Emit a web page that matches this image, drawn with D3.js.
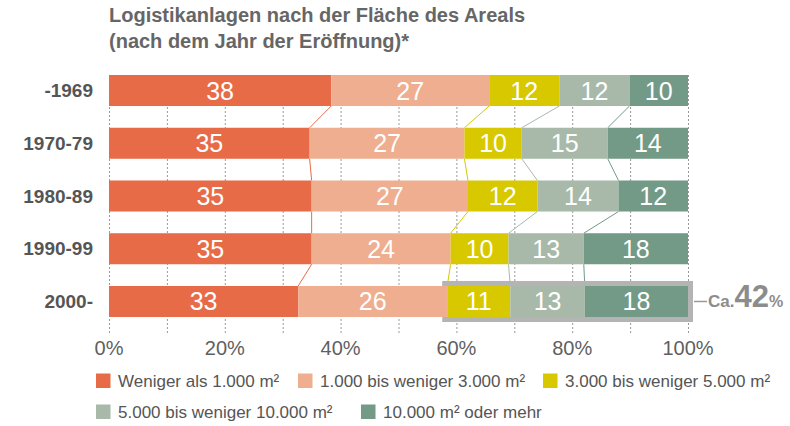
<!DOCTYPE html>
<html>
<head>
<meta charset="utf-8">
<script src="https://cdn.jsdelivr.net/npm/d3@7"></script>
<style>
  body { margin: 0; background: #fff; }
  svg text { font-family: "Liberation Sans", Arial, sans-serif; }
</style>
</head>
<body>
<div id="chart"></div>
<script>
'use strict';

const periods = ['-1969', '1970-79', '1980-89', '1990-99', '2000-'];
const classes = [
    'Weniger als 1.000 m²',
    '1.000 bis weniger 3.000 m²',
    '3.000 bis weniger 5.000 m²',
    '5.000 bis weniger 10.000 m²',
    '10.000 m² oder mehr'
];
const shares = [
    [38, 27, 12, 12, 10],
    [35, 27, 10, 15, 14],
    [35, 27, 12, 14, 12],
    [35, 24, 10, 13, 18],
    [33, 26, 11, 13, 18]
];
const colors = ['#e86b48', '#eeae8f', '#d8c800', '#a8b9a9', '#739a86'];
const xTicks = [0, 20, 40, 60, 80, 100];
const highlightText = '42';

const width = 790, height = 426;
const margin = {left: 109, right: 102, top: 75};
const plotW = width - margin.left - margin.right;

const svg = d3.select('#chart').append('svg')
    .attr('width', width)
    .attr('height', height);

const x = d3.scaleLinear().domain([0, 100]).range([margin.left, margin.left + plotW]);
const y = d3.scaleBand().domain(periods).range([75, 317]).paddingInner(0.412).paddingOuter(0);

// stacked positions, normalised to 100%
const rows = shares.map(function (vals, i) {
    let total = d3.sum(vals);
    let acc = 0;
    return vals.map(function (v, k) {
        let start = acc / total * 100;
        acc += v;
        return {period: periods[i], k: k, value: v, x0: start, x1: acc / total * 100};
    });
});

// title
svg.append('text')
    .attr('x', margin.left).attr('y', 22)
    .style('font-size', '20px').style('font-weight', 'bold').style('fill', '#666')
    .text('Logistikanlagen nach der Fläche des Areals');
svg.append('text')
    .attr('x', margin.left).attr('y', 48)
    .style('font-size', '20px').style('font-weight', 'bold').style('fill', '#666')
    .text('(nach dem Jahr der Eröffnung)*');

// dotted grid
svg.append('g').selectAll('line')
    .data(d3.range(0, 101, 10))
    .enter().append('line')
    .attr('x1', d => x(d) + 0.5).attr('x2', d => x(d) + 0.5)
    .attr('y1', y(periods[0])).attr('y2', 334)
    .style('stroke', '#999').style('stroke-width', 1).style('stroke-dasharray', '2,2');

// connector lines between rows
const connColor = [0, 2, 3, 4];
for (let i = 0; i < rows.length - 1; i++) {
    for (let b = 0; b < 4; b++) {
        svg.append('line')
            .attr('x1', x(rows[i][b].x1)).attr('y1', y(periods[i]) + y.bandwidth())
            .attr('x2', x(rows[i + 1][b].x1)).attr('y2', y(periods[i + 1]))
            .style('stroke', colors[connColor[b]]).style('stroke-width', 1);
    }
}

// highlight box on the last row
const last = rows[rows.length - 1];
const hy = y(periods[periods.length - 1]);
svg.append('rect')
    .attr('x', x(last[2].x0) - 2.5).attr('y', hy - 2.5)
    .attr('width', x(100) - x(last[2].x0) + 5).attr('height', y.bandwidth() + 5)
    .style('fill', 'none').style('stroke', '#b4b4b4').style('stroke-width', 5);

// bars
const rowG = svg.selectAll('.row').data(rows).enter()
    .append('g').attr('class', 'row');

rowG.selectAll('rect').data(d => d).enter()
    .append('rect')
    .attr('x', d => x(d.x0))
    .attr('y', d => y(d.period))
    .attr('width', d => x(d.x1) - x(d.x0))
    .attr('height', y.bandwidth())
    .style('fill', d => colors[d.k]);

rowG.selectAll('text').data(d => d).enter()
    .append('text')
    .attr('x', d => (x(d.x0) + x(d.x1)) / 2)
    .attr('y', d => y(d.period) + y.bandwidth() / 2 + 9)
    .attr('text-anchor', 'middle')
    .style('font-size', '25px').style('fill', '#fff')
    .text(d => d.value);

// category labels
svg.append('g').selectAll('text').data(periods).enter()
    .append('text')
    .attr('x', 93)
    .attr('y', d => y(d) + y.bandwidth() / 2 + 6.5)
    .attr('text-anchor', 'end')
    .style('font-size', '19px').style('font-weight', 'bold').style('fill', '#555')
    .text(d => d);

// x axis labels
svg.append('g').selectAll('text').data(xTicks).enter()
    .append('text')
    .attr('x', d => x(d))
    .attr('y', 355)
    .attr('text-anchor', 'middle')
    .style('font-size', '20px').style('fill', '#5f5f5f')
    .text(d => d + '%');

// Ca. 42%
svg.append('line')
    .attr('x1', x(100) + 6).attr('x2', x(100) + 19)
    .attr('y1', hy + y.bandwidth() / 2).attr('y2', hy + y.bandwidth() / 2)
    .style('stroke', '#999').style('stroke-width', 1.5);
const ca = svg.append('text')
    .attr('x', x(100) + 20).attr('y', hy + y.bandwidth() / 2 + 6)
    .style('fill', '#8c8c8c').style('font-weight', 'bold');
ca.append('tspan').style('font-size', '17px').text('Ca.');
ca.append('tspan').style('font-size', '31px').text(highlightText);
ca.append('tspan').style('font-size', '16px').text('%');

// legend
const legendPos = [[96, 381], [298, 381], [543, 381], [96, 412], [361, 412]];
const leg = svg.append('g').selectAll('g').data(classes).enter()
    .append('g')
    .attr('transform', (d, i) => 'translate(' + legendPos[i][0] + ',' + legendPos[i][1] + ')');
leg.append('rect')
    .attr('x', 0).attr('y', -7.5).attr('width', 14.5).attr('height', 14.5)
    .style('fill', (d, i) => colors[i]);
leg.append('text')
    .attr('x', 22).attr('y', 6)
    .style('font-size', '17px').style('fill', '#555')
    .text(d => d);
</script>
</body>
</html>
